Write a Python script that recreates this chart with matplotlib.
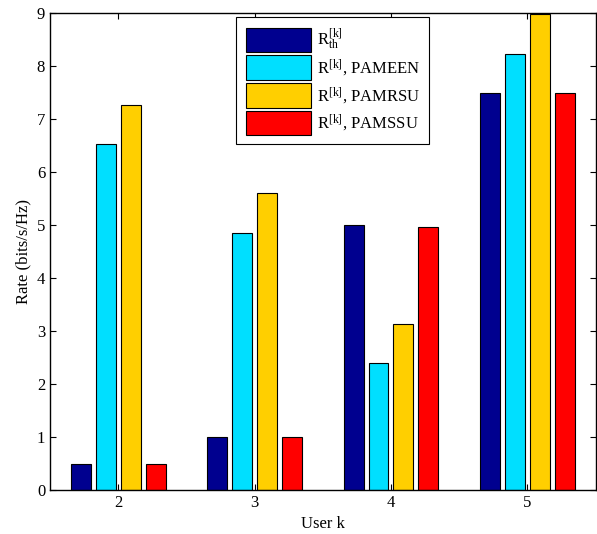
import numpy as np
import matplotlib
matplotlib.use('Agg')
import matplotlib.pyplot as plt

plt.rcParams['font.family'] = ['Liberation Serif']
plt.rcParams['mathtext.fontset'] = 'custom'
plt.rcParams['mathtext.rm'] = 'Liberation Serif'
plt.rcParams['mathtext.it'] = 'Liberation Serif:italic'

users = [2, 3, 4, 5]
r_th = [0.5, 1.0, 5.0, 7.5]
r_pameen = [6.53, 4.85, 2.4, 8.23]
r_pamrsu = [7.27, 5.6, 3.13, 8.98]
r_pamssu = [0.5, 1.0, 4.97, 7.5]

labels = [r'$\mathregular{R^{[k]}_{th}}$',
          r'$\mathregular{R^{[k]}}$, PAMEEN',
          r'$\mathregular{R^{[k]}}$, PAMRSU',
          r'$\mathregular{R^{[k]}}$, PAMSSU']
colors = ['#00008F', '#00DFFF', '#FFCF00', '#FF0000']
series = [r_th, r_pameen, r_pamrsu, r_pamssu]

fig = plt.figure(figsize=(5.97, 5.34), dpi=100)
ax = fig.add_axes([0.0838, 0.0824, 0.9137, 0.8926])

x = np.array(users, dtype=float)
offsets = [-0.2743, -0.0914, 0.0914, 0.2743]
for vals, off, c, lab in zip(series, offsets, colors, labels):
    ax.bar(x + off, vals, width=0.146, color=c, edgecolor='black',
           linewidth=0.8, label=lab)

ax.set_xlim(1.5, 5.5)
ax.set_ylim(0, 9)
ax.set_xticks(users)
ax.set_yticks(range(10))
ax.tick_params(direction='in', top=True, right=True, labelsize=12, length=4)
ax.set_xlabel('User k', fontsize=12)
ax.set_ylabel('Rate (bits/s/Hz)', fontsize=12)
for s in ax.spines.values():
    s.set_linewidth(1.0)

leg = ax.legend(loc='upper center', bbox_to_anchor=(0.5185, 0.992),
                borderaxespad=0, fontsize=12, handlelength=3.9,
                handleheight=1.9, fancybox=False, edgecolor='black',
                framealpha=1, borderpad=0.55, labelspacing=0.18,
                handletextpad=0.36)
leg.get_frame().set_linewidth(0.8)

fig.savefig('out.png', dpi=100)
